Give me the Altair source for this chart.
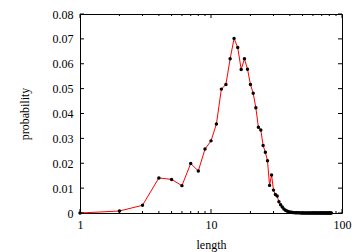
import altair as alt
import pandas as pd

lengths = list(range(1, 84))
probs = [
    0.0, 0.0008, 0.0031, 0.0141, 0.0135, 0.0110, 0.0199, 0.0169, 0.0257, 0.0290,
    0.0358, 0.0498, 0.0517, 0.0620, 0.0702, 0.0665, 0.0577, 0.0620, 0.0578, 0.0517,
    0.0481, 0.0423, 0.0345, 0.0334, 0.0271, 0.0244, 0.0210, 0.0111, 0.0153, 0.0092,
    0.0074, 0.0068, 0.0045, 0.0033, 0.0024, 0.0016, 0.0011, 0.0008, 0.0005, 0.0004,
    0.0003, 0.0002, 0.00015, 0.0001, 0.00008, 0.00007, 0.00006, 0.00005, 0.00004, 0.00004,
    0.00003, 0.00003, 0.00002, 0.00002, 0.00002, 0.00001, 0.00001, 0.00001, 0.00001, 0.00001,
    0.00001, 0.00001, 0.00001, 0.0, 0.0, 0.0, 0.0, 0.0, 0.0, 0.0,
    0.0, 0.0, 0.0, 0.0, 0.0, 0.0, 0.0, 0.0, 0.0, 0.0,
    0.0, 0.0, 0.0,
]

x_major = [1, 10, 100]
x_minor = [2, 3, 4, 5, 6, 7, 8, 9, 20, 30, 40, 50, 60, 70, 80, 90]
y_ticks = [0, 0.01, 0.02, 0.03, 0.04, 0.05, 0.06, 0.07, 0.08]

W, H = 262, 199
FONT = "Liberation Serif"
FS = 12

df = pd.DataFrame({"length": lengths, "probability": probs})
df_xmaj = pd.DataFrame({"length": x_major})
df_xmin = pd.DataFrame({"length": x_minor})
df_y = pd.DataFrame({"probability": y_ticks})

xscale = alt.Scale(type="log", domain=[1, 100], nice=False)
yscale = alt.Scale(domain=[0, 0.08], nice=False, zero=False)

xaxis = alt.Axis(values=x_major, format="~g", ticks=False, grid=False, domain=False,
                 labelFlush=False, labelOverlap=False,
                 labelFont=FONT, labelFontSize=FS, labelColor="black", labelPadding=6,
                 titleFont=FONT, titleFontSize=FS, titleFontWeight="normal",
                 titleColor="black", titlePadding=9)
yaxis = alt.Axis(values=y_ticks, format="~g", ticks=False, grid=False, domain=False,
                 labelFlush=False, labelOverlap=False,
                 labelFont=FONT, labelFontSize=FS, labelColor="black", labelPadding=7,
                 titleFont=FONT, titleFontSize=FS, titleFontWeight="normal",
                 titleColor="black", titlePadding=21)

X = lambda: alt.X("length:Q", scale=xscale, axis=xaxis, title="length")
Y = lambda: alt.Y("probability:Q", scale=yscale, axis=yaxis, title="probability")

base = alt.Chart(df).encode(x=X(), y=Y())
line = base.mark_line(color="#ff0000", strokeWidth=1)
pts = base.mark_circle(color="black", size=12, opacity=1)

def xticks(d, ln):
    bottom = alt.Chart(d).mark_rule(color="black", strokeWidth=1).encode(
        x=X(), y=alt.value(H), y2=alt.value(H - ln))
    top = alt.Chart(d).mark_rule(color="black", strokeWidth=1).encode(
        x=X(), y=alt.value(0), y2=alt.value(ln))
    return [bottom, top]

yl = alt.Chart(df_y).mark_rule(color="black", strokeWidth=1).encode(
    y=Y(), x=alt.value(0), x2=alt.value(4))
yr = alt.Chart(df_y).mark_rule(color="black", strokeWidth=1).encode(
    y=Y(), x=alt.value(W), x2=alt.value(W - 4))

chart = alt.layer(
    line, pts, *xticks(df_xmaj, 4), *xticks(df_xmin, 2), yl, yr
).properties(
    width=W, height=H,
    background="white",
    autosize=alt.AutoSizeParams(type="none"),
    padding={"left": 80, "top": 14, "right": 18, "bottom": 39},
).configure_view(stroke="black", strokeWidth=1)

chart.save("out.html", embed_options={"renderer": "svg", "actions": False})
